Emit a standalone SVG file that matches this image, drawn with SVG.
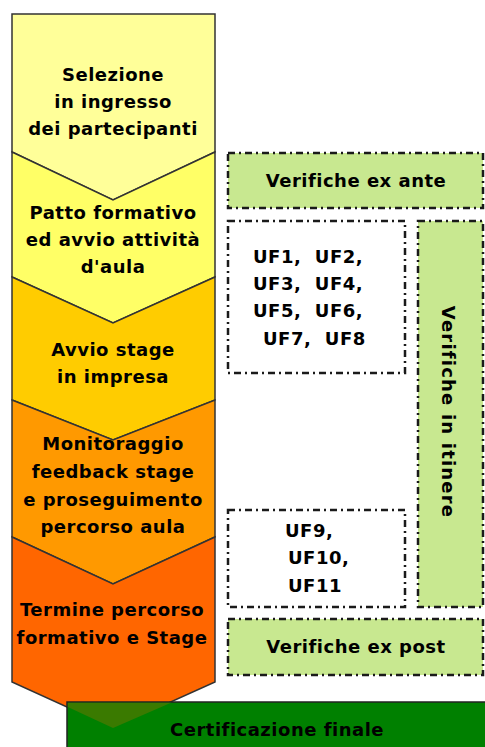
<svg xmlns="http://www.w3.org/2000/svg" width="485" height="747" viewBox="0 0 485 747">
<style>
.t{font-family:"DejaVu Sans","Liberation Sans",sans-serif;font-weight:bold;font-size:18px;letter-spacing:0.5px;fill:#000;text-anchor:middle}
.s{text-anchor:start}
.step{stroke:#333;stroke-width:1.5;stroke-linejoin:miter}
.dash{stroke:#1a1a1a;stroke-width:2.5;stroke-dasharray:7 4 2 4;fill:none}
.lg{fill:#C8E890}
</style>
<rect width="485" height="747" fill="#fff"/>
<g id="step1">
<polygon class="step" fill="#FFFF99" points="12,14 215,14 215,152 113,200 12,152"/>
<text class="t" x="113" y="81">Selezione</text>
<text class="t" x="113" y="108">in ingresso</text>
<text class="t" x="113" y="135">dei partecipanti</text>
</g>
<g id="step2">
<polygon class="step" fill="#FFFF66" points="12,152 113,200 215,152 215,277 113,323 12,277"/>
<text class="t" x="113" y="219">Patto formativo</text>
<text class="t" x="113" y="246">ed avvio attività</text>
<text class="t" x="113" y="273">d'aula</text>
</g>
<g id="step3">
<polygon class="step" fill="#FFCC00" points="12,277 113,323 215,277 215,400 113,440 12,400"/>
<text class="t" x="113" y="356">Avvio stage</text>
<text class="t" x="113" y="383">in impresa</text>
</g>
<g id="step4">
<polygon class="step" fill="#FF9900" points="12,400 113,440 215,400 215,537 113,584 12,537"/>
<text class="t" x="113" y="450">Monitoraggio</text>
<text class="t" x="113" y="478">feedback stage</text>
<text class="t" x="113" y="506">e proseguimento</text>
<text class="t" x="113" y="533">percorso aula</text>
</g>
<g id="step5">
<polygon class="step" fill="#FF6600" points="12,537 113,584 215,537 215,682 113,728 12,682"/>
<text class="t" x="112" y="616">Termine percorso</text>
<text class="t" x="112" y="644">formativo e Stage</text>
</g>
<g id="cert">
<rect x="67" y="702" width="430" height="60" fill="#008000" stroke="#222" stroke-width="1.5"/>
<polygon fill="#3A7A00" points="67.8,702.8 171,702.8 113,728 67.8,707"/>
<text class="t" x="277" y="736">Certificazione finale</text>
</g>
<g id="exante">
<rect class="lg" x="228" y="153" width="255" height="55"/>
<rect class="dash" x="228" y="153" width="255" height="55"/>
<text class="t" x="356" y="187">Verifiche ex ante</text>
</g>
<g id="uf1">
<rect class="dash" x="228" y="221" width="177" height="152"/>
<text class="t s" x="253" y="263" xml:space="preserve">UF1,  UF2,</text>
<text class="t s" x="253" y="290" xml:space="preserve">UF3,  UF4,</text>
<text class="t s" x="253" y="317" xml:space="preserve">UF5,  UF6,</text>
<text class="t s" x="263" y="345" xml:space="preserve">UF7,  UF8</text>
</g>
<g id="itinere">
<rect class="lg" x="418" y="221" width="65" height="386"/>
<rect class="dash" x="418" y="221" width="65" height="386"/>
<text class="t" transform="translate(442,412) rotate(90)" x="0" y="0" style="letter-spacing:1.2px">Verifiche in itinere</text>
</g>
<g id="uf2">
<rect class="dash" x="228" y="510" width="177" height="97"/>
<text class="t s" x="285" y="537">UF9,</text>
<text class="t s" x="288" y="564">UF10,</text>
<text class="t s" x="288" y="592">UF11</text>
</g>
<g id="expost">
<rect class="lg" x="228" y="619" width="255" height="56"/>
<rect class="dash" x="228" y="619" width="255" height="56"/>
<text class="t" x="356" y="653">Verifiche ex post</text>
</g>
<g id="connectors"></g>
</svg>
